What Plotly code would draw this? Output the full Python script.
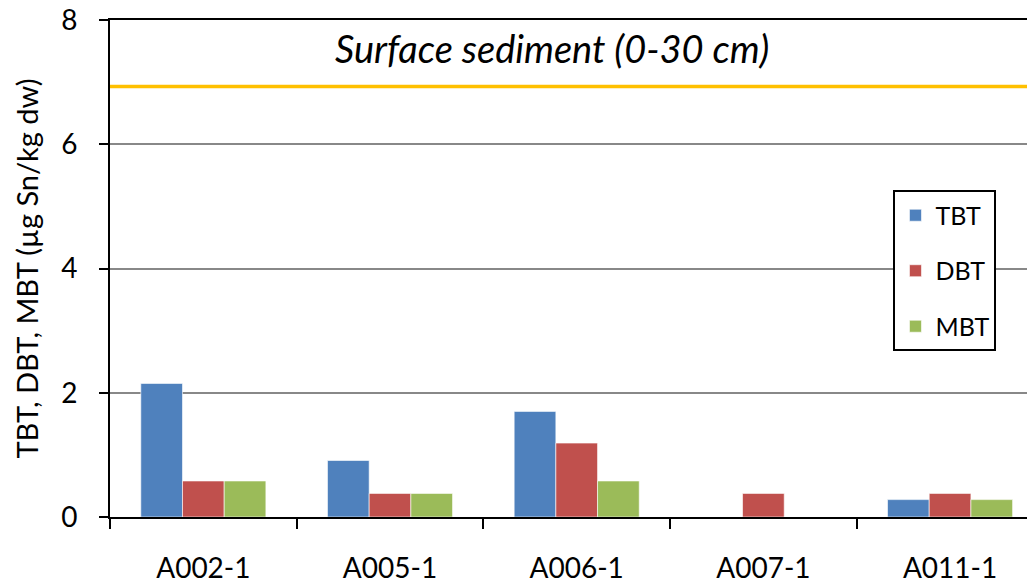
import plotly.graph_objects as go

categories = ["A002-1", "A005-1", "A006-1", "A007-1", "A011-1"]
tbt = [2.15, 0.91, 1.70, 0.0, 0.28]
dbt = [0.58, 0.38, 1.19, 0.38, 0.38]
mbt = [0.58, 0.38, 0.58, 0.0, 0.28]
series_names = ["TBT", "DBT", "MBT"]
series_colors = ["#4F81BD", "#C0504D", "#9BBB59"]
reference_level = 6.93
panel_title = "Surface sediment (0-30 cm)"
y_title = "TBT, DBT, MBT (µg Sn/kg dw)"

FONT = "Lato"
fig = go.Figure()
for name, vals, col in zip(series_names, [tbt, dbt, mbt], series_colors):
    fig.add_trace(go.Bar(
        x=categories, y=vals, name=name, legendgroup=name,
        marker=dict(color=col, line=dict(color="rgba(255,255,255,0.6)", width=1)),
    ))

# reference line
fig.add_shape(type="line", xref="paper", yref="y", x0=0, x1=1,
              y0=reference_level, y1=reference_level,
              line=dict(color="#FFC000", width=3.5))

fig.add_annotation(text="<i>" + panel_title + "</i>", xref="paper", yref="y",
                   x=0.478, y=7.55, showarrow=False,
                   font=dict(family=FONT, size=38, color="black"))

fig.update_layout(
    width=1027, height=578,
    margin=dict(l=102, r=0, t=12, b=69),
    paper_bgcolor="white", plot_bgcolor="white",
    barmode="group", bargap=0.33, bargroupgap=0,
    font=dict(family=FONT, size=22, color="black"),
    showlegend=True,
    legend=dict(x=0.847, y=0.657, xanchor="left", yanchor="top",
                bgcolor="white", bordercolor="black", borderwidth=2,
                tracegroupgap=20, font=dict(size=25),
                itemwidth=30),
    xaxis=dict(range=[-0.5, 4.455], showline=True, linecolor="black", linewidth=2,
               mirror=True,
               ticks="outside", tickson="boundaries", ticklen=10, tickwidth=2,
               tickcolor="black", showgrid=False, ticklabelstandoff=25,
               tickfont=dict(size=28), automargin=False),
    yaxis=dict(range=[0, 8], tickvals=[0, 2, 4, 6, 8], showline=True,
               linecolor="black", linewidth=2, ticks="outside", ticklen=9,
               tickwidth=2, tickcolor="black", showgrid=True, gridcolor="#888888",
               gridwidth=1.5, zeroline=False, ticklabelstandoff=16,
               ticklabeloverflow="allow",
               tickfont=dict(size=28), automargin=False,
               title=dict(text=y_title, font=dict(size=29), standoff=14)),
)

fig.write_html("out.html")
